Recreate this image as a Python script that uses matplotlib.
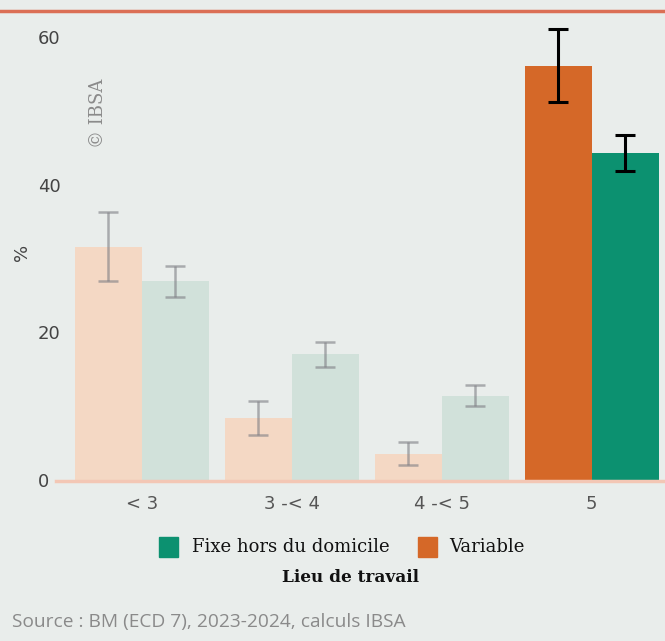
import matplotlib
matplotlib.use("Agg")
import matplotlib.pyplot as plt
from matplotlib.patches import Rectangle
from matplotlib.lines import Line2D

categories = ["< 3", "3 -< 4", "4 -< 5", "5"]
variable = [31.6, 8.4, 3.5, 56.1]
variable_lo = [27.0, 6.1, 2.0, 51.2]
variable_hi = [36.3, 10.7, 5.1, 61.1]
fixe = [27.0, 17.1, 11.4, 44.3]
fixe_lo = [24.8, 15.3, 10.0, 41.9]
fixe_hi = [29.0, 18.7, 12.9, 46.7]
yticks = [0, 20, 40, 60]
ytick_labels = ["0", "20", "40", "60"]

BG = "#e9edeb"
ORANGE = "#d56828"
GREEN = "#0c9170"
ORANGE_F = "#f4d8c4"
GREEN_F = "#d1e1da"

W, H = 665, 641
fig = plt.figure(figsize=(W / 100, H / 100), dpi=100, facecolor=BG)

ax_l, ax_r = 70, 662
y0_px, ytop = 480, 63
px_per = (480 - 37) / 60
top_px = y0_px - ytop * px_per
ax = fig.add_axes([ax_l / W, (H - y0_px) / H, (ax_r - ax_l) / W, (y0_px - top_px) / H])
ax.set_facecolor(BG)
ax.set_xlim(-0.48, 3.47)
ax.set_ylim(0, ytop)

bw = 0.447
highlight = len(categories) - 1
for i, cat in enumerate(categories):
    hl = (i == highlight)
    oc = ORANGE if hl else ORANGE_F
    gc = GREEN if hl else GREEN_F
    ec = "black" if hl else "#7e7e84"
    ea = 1.0 if hl else 0.6
    lw = 2.2 if hl else 1.8
    xo = i - bw / 2
    xg = i + bw / 2
    ax.bar(xo, variable[i], width=bw, color=oc, zorder=2)
    ax.bar(xg, fixe[i], width=bw, color=gc, zorder=2)
    ax.errorbar([xo], [variable[i]],
                yerr=[[variable[i] - variable_lo[i]], [variable_hi[i] - variable[i]]],
                fmt="none", ecolor=ec, alpha=ea, elinewidth=lw, capsize=7.5, capthick=lw, zorder=3)
    ax.errorbar([xg], [fixe[i]],
                yerr=[[fixe[i] - fixe_lo[i]], [fixe_hi[i] - fixe[i]]],
                fmt="none", ecolor=ec, alpha=ea, elinewidth=lw, capsize=7.5, capthick=lw, zorder=3)

for s in ax.spines.values():
    s.set_visible(False)

# baseline
fig.add_artist(Line2D([56 / W, 1.0], [(H - 481) / H] * 2, color="#f3c7b5", lw=2.5))
# top red line
fig.add_artist(Line2D([0, 663 / W], [(H - 11) / H] * 2, color="#db6f55", lw=2.5))

ax.set_yticks(yticks)
ax.set_yticklabels(ytick_labels, ha="left", fontsize=13, color="#444444", family="DejaVu Sans")
ax.tick_params(axis="y", length=0, pad=32 * 0.72)
ax.set_xticks(range(len(categories)))
ax.set_xticklabels(categories, fontsize=13, color="#555555", family="DejaVu Sans")
ax.tick_params(axis="x", length=0, pad=11)

fig.text(22 / W, 1 - 252 / H, "%", rotation=90, ha="center", va="center", fontsize=13, color="#444444")
fig.text(98 / W, 1 - 113 / H, "© IBSA", rotation=90, ha="center", va="center", fontsize=13,
         color="#8a8a8a", family="DejaVu Serif")

# legend
def sq(x, y, c):
    fig.add_artist(Rectangle((x / W, 1 - (y + 20) / H), 19 / W, 20 / H, color=c, transform=fig.transFigure))
sq(159, 537, GREEN)
fig.text(192 / W, 1 - 547 / H, "Fixe hors du domicile", ha="left", va="center", fontsize=13,
         family="DejaVu Serif", color="#111111")
sq(418, 537, ORANGE)
fig.text(449 / W, 1 - 547 / H, "Variable", ha="left", va="center", fontsize=13,
         family="DejaVu Serif", color="#111111")
fig.text(350 / W, 1 - 577 / H, "Lieu de travail", ha="center", va="center", fontsize=12.2,
         family="DejaVu Serif", fontweight="bold", color="#111111")

fig.text(12 / W, 1 - 622 / H, "Source : BM (ECD 7), 2023-2024, calculs IBSA", ha="left", va="center",
         fontsize=13.8, family="Open Sans", color="#8a8a8a")

fig.savefig("out.png", dpi=100, facecolor=BG)
